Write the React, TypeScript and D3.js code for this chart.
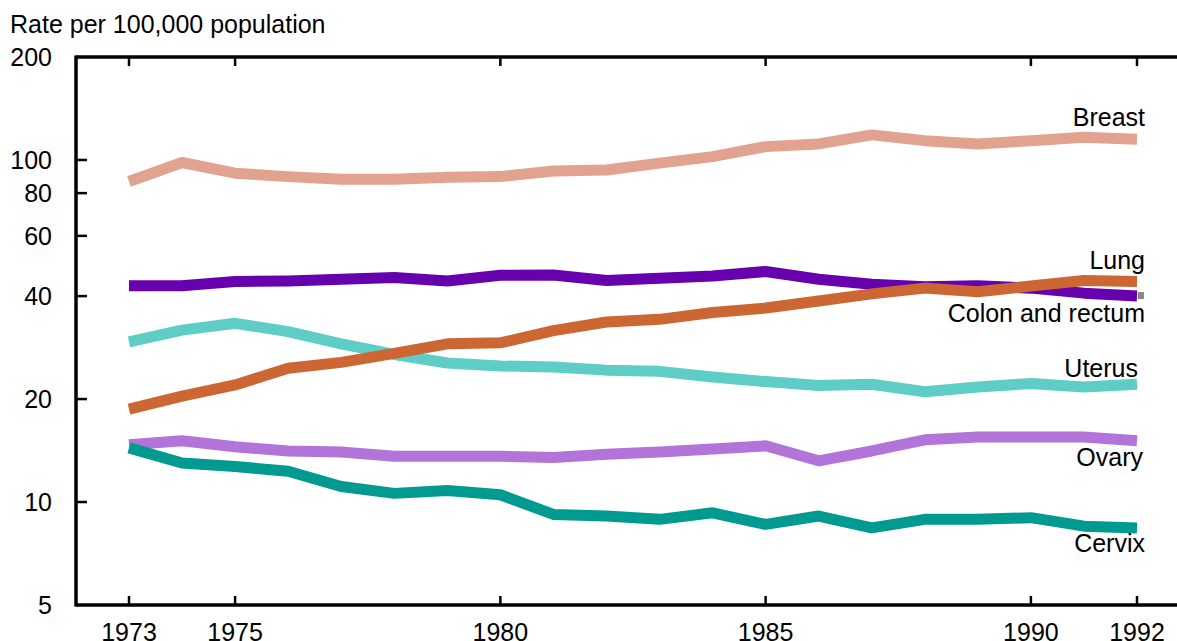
import { useEffect, useRef } from 'react'
import * as d3 from 'd3'

const W = 1177
const H = 641

const years = d3.range(1973, 1993)
const yTicks = [5, 10, 20, 40, 60, 80, 100, 200]
const xTicks = [1973, 1975, 1980, 1985, 1990, 1992]

const breast = [86.5, 98.3, 91.5, 89.4, 87.8, 87.8, 89.0, 89.4, 92.9, 93.5, 97.9, 102.3, 109.4, 111.4, 118.4, 113.9, 111.4, 113.9, 116.6, 115.0]
const lung = [42.9, 42.9, 44.1, 44.3, 44.8, 45.3, 44.3, 46.0, 46.1, 44.4, 45.1, 45.8, 47.2, 44.8, 43.3, 42.6, 42.9, 42.2, 40.8, 40.0]
const colon = [18.7, 20.4, 22.0, 24.6, 25.6, 27.2, 29.0, 29.2, 31.7, 33.6, 34.2, 35.8, 36.9, 38.7, 40.6, 42.2, 41.2, 42.8, 44.4, 44.1]
const uterus = [29.4, 31.8, 33.3, 31.5, 29.0, 27.0, 25.5, 25.0, 24.8, 24.3, 24.1, 23.2, 22.5, 21.9, 22.1, 21.0, 21.7, 22.2, 21.7, 22.1]
const ovary = [14.7, 15.1, 14.5, 14.1, 14.0, 13.6, 13.6, 13.6, 13.5, 13.8, 14.0, 14.3, 14.6, 13.2, 14.1, 15.2, 15.5, 15.5, 15.5, 15.1]
const cervix = [14.4, 13.0, 12.7, 12.3, 11.1, 10.6, 10.8, 10.5, 9.2, 9.1, 8.9, 9.3, 8.6, 9.1, 8.4, 8.9, 8.9, 9.0, 8.5, 8.4]

// drawing order: later series sit on top
const series = [
  { name: 'Breast', values: breast, color: '#e1a390', labelDy: -13, labelDx: 8 },
  { name: 'Lung', values: lung, color: '#6700ad', labelDy: -27, labelDx: 8 },
  { name: 'Uterus', values: uterus, color: '#5dcdc5', labelDy: -7, labelDx: 1 },
  { name: 'Ovary', values: ovary, color: '#b274d8', labelDy: 25, labelDx: 6 },
  { name: 'Cervix', values: cervix, color: '#009a90', labelDy: 24, labelDx: 8 },
  { name: 'Colon and rectum', values: colon, color: '#cc6633', labelDy: 40, labelDx: 8 },
]

const FONT = '"Liberation Sans", Arial, Helvetica, sans-serif'
const FS = 25

export default function App() {
  const svgRef = useRef<SVGSVGElement>(null)

  useEffect(() => {
    document.body.style.margin = '0'
    if (!svgRef.current) return
    const svg = d3.select(svgRef.current)
    svg.selectAll('*').remove()

    const left = 76
    const top = 57
    const bottom = 605

    const x = d3.scaleLinear().domain([1973, 1992]).range([129, 1137])
    const y = d3.scaleLog().domain([5, 200]).range([bottom, top])

    svg.append('rect').attr('width', W).attr('height', H).attr('fill', '#fff')

    svg.append('text')
      .attr('x', 10)
      .attr('y', 33)
      .attr('font-family', FONT)
      .attr('font-size', FS)
      .attr('fill', '#000')
      .text('Rate per 100,000 population')

    const lineGen = d3.line<number>()
      .x((_, i) => x(years[i]))
      .y(d => y(d))

    const lines = svg.append('g')
    series.forEach(s => {
      lines.append('path')
        .attr('d', lineGen(s.values) as string)
        .attr('fill', 'none')
        .attr('stroke', s.color)
        .attr('stroke-width', 11)
        .attr('stroke-linejoin', 'round')
        .attr('stroke-linecap', 'butt')
    })

    // small grey marker at the end of the lung line
    const last = years.length - 1
    svg.append('rect')
      .attr('x', x(years[last]) + 1)
      .attr('y', y(lung[last]) - 4)
      .attr('width', 6)
      .attr('height', 7)
      .attr('fill', '#888')

    // series labels, right-aligned near the 1992 end
    series.forEach(s => {
      svg.append('text')
        .attr('x', x(years[last]) + s.labelDx)
        .attr('y', y(s.values[last]) + s.labelDy)
        .attr('text-anchor', 'end')
        .attr('font-family', FONT)
        .attr('font-size', FS)
        .attr('fill', '#000')
        .text(s.name)
    })

    const axes = svg.append('g').attr('stroke', '#000')
    axes.append('line').attr('x1', left).attr('x2', left).attr('y1', top - 1.5).attr('y2', bottom + 1.5).attr('stroke-width', 3.5)
    axes.append('line').attr('x1', left).attr('x2', W).attr('y1', top).attr('y2', top).attr('stroke-width', 3.5)
    axes.append('line').attr('x1', left).attr('x2', W).attr('y1', bottom).attr('y2', bottom).attr('stroke-width', 3.5)

    yTicks.forEach(t => {
      if (t !== 5 && t !== 200) {
        axes.append('line')
          .attr('x1', left).attr('x2', left + 11)
          .attr('y1', y(t)).attr('y2', y(t))
          .attr('stroke-width', 2.5)
      }
      svg.append('text')
        .attr('x', 52)
        .attr('y', y(t))
        .attr('dy', '0.36em')
        .attr('text-anchor', 'end')
        .attr('font-family', FONT)
        .attr('font-size', FS)
        .attr('fill', '#000')
        .text(String(t))
    })

    xTicks.forEach(t => {
      axes.append('line')
        .attr('x1', x(t)).attr('x2', x(t))
        .attr('y1', top).attr('y2', top + 9)
        .attr('stroke-width', 2.5)
      axes.append('line')
        .attr('x1', x(t)).attr('x2', x(t))
        .attr('y1', bottom).attr('y2', bottom - 9)
        .attr('stroke-width', 2.5)
      svg.append('text')
        .attr('x', x(t))
        .attr('y', 641)
        .attr('text-anchor', 'middle')
        .attr('font-family', FONT)
        .attr('font-size', FS)
        .attr('fill', '#000')
        .text(String(t))
    })
  }, [])

  return (
    <div style={{ width: W, height: H, overflow: 'hidden' }}>
      <svg ref={svgRef} width={W} height={H} style={{ display: 'block' }} />
    </div>
  )
}
